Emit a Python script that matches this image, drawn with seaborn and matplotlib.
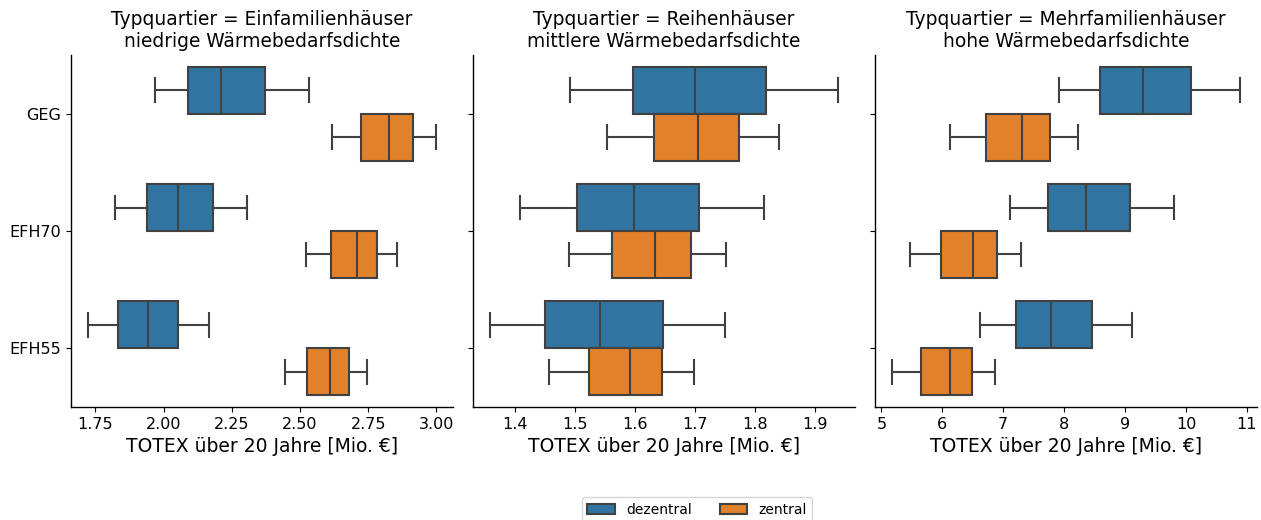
import numpy as np
import pandas as pd
import seaborn as sns
import matplotlib.pyplot as plt

# ---------------- data (five-number summaries) ----------------
standards = ["GEG", "EFH70", "EFH55"]
systems = ["dezentral", "zentral"]
quartier_types = ["Einfamilienhäuser", "Reihenhäuser", "Mehrfamilienhäuser"]
density_labels = ["niedrige Wärmebedarfsdichte", "mittlere Wärmebedarfsdichte", "hohe Wärmebedarfsdichte"]

# [min, q1, median, q3, max] per standard (GEG, EFH70, EFH55)
efh_dezentral = [[1.970, 2.090, 2.210, 2.371, 2.532],
                 [1.823, 1.938, 2.053, 2.180, 2.307],
                 [1.724, 1.832, 1.941, 2.054, 2.168]]
efh_zentral = [[2.617, 2.723, 2.827, 2.914, 2.997],
               [2.521, 2.614, 2.710, 2.782, 2.854],
               [2.444, 2.527, 2.611, 2.679, 2.746]]
rh_dezentral = [[1.492, 1.596, 1.701, 1.819, 1.938],
                [1.408, 1.503, 1.599, 1.707, 1.815],
                [1.359, 1.450, 1.541, 1.646, 1.750]]
rh_zentral = [[1.554, 1.631, 1.706, 1.773, 1.840],
              [1.490, 1.562, 1.633, 1.693, 1.752],
              [1.457, 1.524, 1.592, 1.645, 1.698]]
mfh_dezentral = [[7.907, 8.596, 9.290, 10.082, 10.880],
                 [7.109, 7.732, 8.361, 9.082, 9.798],
                 [6.623, 7.208, 7.792, 8.454, 9.120]]
mfh_zentral = [[6.131, 6.716, 7.306, 7.765, 8.230],
               [5.475, 5.984, 6.497, 6.891, 7.290],
               [5.180, 5.650, 6.126, 6.492, 6.858]]

# x tick values per facet
efh_ticks = [1.75, 2.00, 2.25, 2.50, 2.75, 3.00]
rh_ticks = [1.4, 1.5, 1.6, 1.7, 1.8, 1.9]
mfh_ticks = [5, 6, 7, 8, 9, 10, 11]
tick_formats = ["{:.2f}", "{:.1f}", "{:.0f}"]

series = {
    "Einfamilienhäuser": {"dezentral": efh_dezentral, "zentral": efh_zentral},
    "Reihenhäuser": {"dezentral": rh_dezentral, "zentral": rh_zentral},
    "Mehrfamilienhäuser": {"dezentral": mfh_dezentral, "zentral": mfh_zentral},
}
facet_ticks = [efh_ticks, rh_ticks, mfh_ticks]

rows = []
for qt in quartier_types:
    for sys_ in systems:
        for std, vals in zip(standards, series[qt][sys_]):
            for v in vals:
                rows.append({"Typquartier": qt, "System": sys_, "Standard": std, "TOTEX": v})
df = pd.DataFrame(rows)

# ---------------- plot ----------------
plt.rcParams.update({
    "font.family": ["DejaVu Sans"],
    "xtick.labelsize": 11.5,
    "ytick.labelsize": 11.5,
    "axes.labelsize": 13.5,
    "axes.titlesize": 13.4,
    "legend.fontsize": 10,
    "axes.linewidth": 1.0,
})

fig = plt.figure(figsize=(12.61, 5.2), dpi=100)
lefts = [71 / 1261, 473 / 1261, 875 / 1261]
width = 382 / 1261
bottom = 1 - 407 / 520
height = (407 - 55) / 520

axes = []
for i, qt in enumerate(quartier_types):
    ax = fig.add_axes([lefts[i], bottom, width, height])
    sub = df[df["Typquartier"] == qt]
    sns.boxplot(data=sub, x="TOTEX", y="Standard", hue="System",
                order=standards, hue_order=systems, orient="h",
                whis=(0, 100), linewidth=1.5, linecolor="#414141",
                ax=ax, legend=(i == 0))
    ax.set_title(f"Typquartier = {qt}\n{density_labels[i]}")
    ax.set_xlabel("TOTEX über 20 Jahre [Mio. €]")
    ax.set_ylabel("")
    ax.set_xticks(facet_ticks[i])
    ax.set_xticklabels([tick_formats[i].format(t) for t in facet_ticks[i]])
    if i > 0:
        ax.set_yticklabels([])
    sns.despine(ax=ax)
    axes.append(ax)

handles, labels = axes[0].get_legend_handles_labels()
axes[0].get_legend().remove()
fig.legend(handles, labels, loc="upper center", ncol=2,
           bbox_to_anchor=(697 / 1261, 23 / 520), borderaxespad=0,
           frameon=True)

fig.savefig("out.png", dpi=100)
